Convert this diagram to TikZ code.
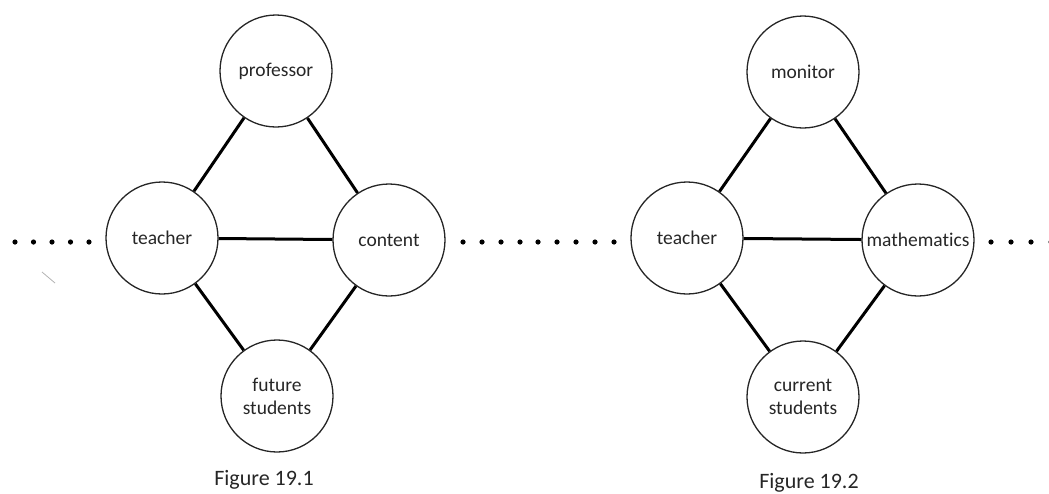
\documentclass[tikz,border=0pt]{standalone}
\usepackage{fontspec}
\setmainfont{Carlito}[Ligatures={NoCommon}]
\begin{document}
\begin{tikzpicture}[x=1pt,y=-1pt,
  role/.style={circle, draw=black!85, line width=1.3pt, minimum size=112pt, inner sep=0pt,
    font=\fontsize{19.5}{23}\selectfont, align=center, text=black!85},
  link/.style={line width=3pt, black},
  dotmark/.style={fill=black},
  caption/.style={font=\fontsize{22}{26}\selectfont, text=black!85}]
\useasboundingbox (0,0) rectangle (1049,493);
% Figure 19.1
\node[role] (prof) at (276,71) {professor};
\node[role] (teach1) at (162,238) {teacher};
\node[role] (cont) at (389,240) {content};
\node[role] (fut) at (277,396) {future\\students};
\draw[link] (prof) -- (teach1);
\draw[link] (prof) -- (cont);
\draw[link] (teach1) -- (cont);
\draw[link] (teach1) -- (fut);
\draw[link] (cont) -- (fut);
\node[caption] (cap1) at (264,480) {Figure 19.1};
% Figure 19.2
\node[role] (mon) at (803,72) {monitor};
\node[role] (teach2) at (687,238) {teacher};
\node[role] (math) at (918,240) {mathematics};
\node[role] (cur) at (803,397) {current\\students};
\draw[link] (mon) -- (teach2);
\draw[link] (mon) -- (math);
\draw[link] (teach2) -- (math);
\draw[link] (teach2) -- (cur);
\draw[link] (math) -- (cur);
\node[caption] (cap2) at (809,483) {Figure 19.2};
% dots
\foreach \x in {15,33.5,52,70.5,89} \fill[dotmark] (\x,242) circle (2.6pt);
\foreach \x in {463,482,501,520,538,557,576,595,614} \fill[dotmark] (\x,242) circle (2.6pt);
\foreach \x in {991,1011,1031,1051} \fill[dotmark] (\x,242) circle (2.6pt);
% faint stray mark
\draw[black!30, line width=0.8pt] (42,272) -- (55,283);
\end{tikzpicture}
\end{document}
